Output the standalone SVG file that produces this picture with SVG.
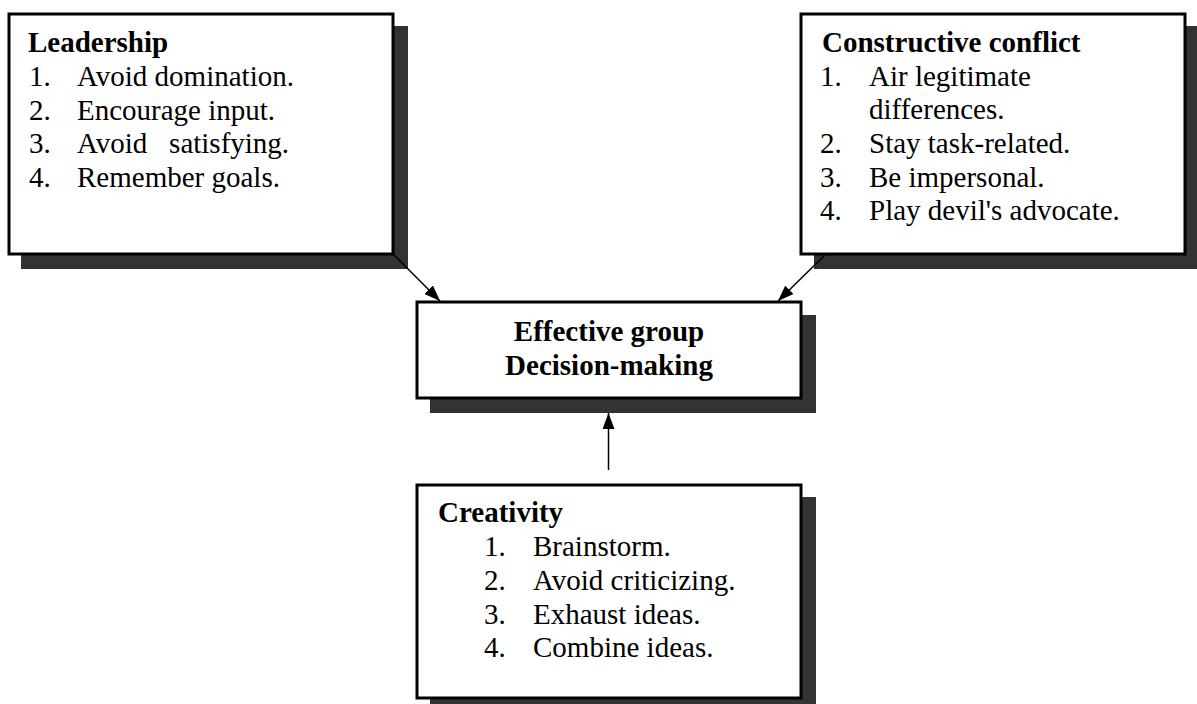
<svg xmlns="http://www.w3.org/2000/svg" width="1197" height="704" viewBox="0 0 1197 704">
  <style>
    .shadow { fill: #333333; }
    .box { fill: #ffffff; stroke: #000000; stroke-width: 3; }
    .title { font-family: "Liberation Serif", "Times New Roman", serif; font-size: 29px; font-weight: bold; fill: #000000; }
    .item { font-family: "Liberation Serif", "Times New Roman", serif; font-size: 29px; fill: #000000; white-space: pre; }
    .center { text-anchor: middle; }
    .link { stroke: #000000; stroke-width: 1.5; fill: none; marker-end: url(#arrow); }
  </style>
  <defs>
    <marker id="arrow" viewBox="0 0 16 12" refX="16" refY="6" markerWidth="16" markerHeight="12" markerUnits="userSpaceOnUse" orient="auto">
      <path d="M0,0 L16,6 L0,12 Z" fill="#000000"/>
    </marker>
  </defs>
  <rect width="1197" height="704" fill="#ffffff"/>

  <g id="leadership">
    <rect class="shadow" x="21" y="26" width="387" height="243"/>
    <rect class="box" x="9" y="14" width="384" height="240"/>
    <text class="title" x="28" y="52">Leadership</text>
    <text class="item" x="29" y="86">1.</text>
    <text class="item" x="77" y="86">Avoid domination.</text>
    <text class="item" x="29" y="120">2.</text>
    <text class="item" x="77" y="120">Encourage input.</text>
    <text class="item" x="29" y="153">3.</text>
    <text class="item" x="77" y="153">Avoid   satisfying.</text>
    <text class="item" x="29" y="187">4.</text>
    <text class="item" x="77" y="187">Remember goals.</text>
  </g>

  <g id="constructive-conflict">
    <rect class="shadow" x="814" y="26" width="383" height="243"/>
    <rect class="box" x="801" y="14" width="384" height="240"/>
    <text class="title" x="822" y="52">Constructive conflict</text>
    <text class="item" x="820" y="86">1.</text>
    <text class="item" x="869" y="86">Air legitimate</text>
    <text class="item" x="869" y="119">differences.</text>
    <text class="item" x="820" y="153">2.</text>
    <text class="item" x="869" y="153">Stay task-related.</text>
    <text class="item" x="820" y="187">3.</text>
    <text class="item" x="869" y="187">Be impersonal.</text>
    <text class="item" x="820" y="220">4.</text>
    <text class="item" x="869" y="220">Play devil's advocate.</text>
  </g>

  <g id="decision-making">
    <rect class="shadow" x="430" y="315" width="386" height="98"/>
    <rect class="box" x="417" y="302" width="384" height="96"/>
    <text class="title center" x="609" y="341">Effective group</text>
    <text class="title center" x="609" y="375">Decision-making</text>
  </g>

  <g id="creativity">
    <rect class="shadow" x="430" y="497" width="386" height="215"/>
    <rect class="box" x="417" y="485" width="384" height="213"/>
    <text class="title" x="438" y="522">Creativity</text>
    <text class="item" x="484" y="556">1.</text>
    <text class="item" x="533" y="556">Brainstorm.</text>
    <text class="item" x="484" y="590">2.</text>
    <text class="item" x="533" y="590">Avoid criticizing.</text>
    <text class="item" x="484" y="624">3.</text>
    <text class="item" x="533" y="624">Exhaust ideas.</text>
    <text class="item" x="484" y="657">4.</text>
    <text class="item" x="533" y="657">Combine ideas.</text>
  </g>

  <g id="connectors">
    <line class="link" x1="393" y1="254" x2="440" y2="301"/>
    <line class="link" x1="826" y1="254" x2="778" y2="301"/>
    <line class="link" x1="608.5" y1="470" x2="608.5" y2="413"/>
  </g>
</svg>
